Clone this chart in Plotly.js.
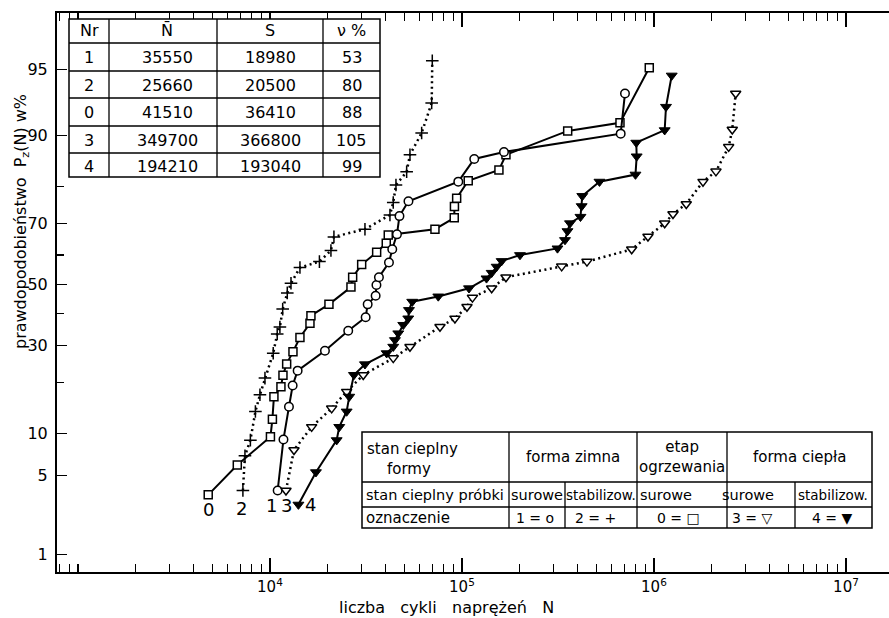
<!DOCTYPE html>
<html><head><meta charset="utf-8">
<script src="https://cdn.plot.ly/plotly-3.0.1.min.js"></script>
<style>html,body{margin:0;padding:0;background:#fff}</style>
</head><body><div id="chart" style="width:889px;height:618px"></div>
<script>
// ---------- DATA (N = cycles, P = probability in %) ----------
const N0 = [4770, 6760, 10060, 10300, 10490, 11410, 11690, 12220, 13180, 14330, 16160, 16350, 20290, 26420, 26960, 30040, 35950, 40340, 41320, 72330, 91170, 91380, 93830, 107800, 155800, 169500, 355300, 665200, 945100];
const P0 = [3.5, 6.0, 9.5, 12.3, 16.7, 18.9, 21.7, 24.7, 28.1, 32.4, 36.9, 39.4, 43.2, 49.1, 52.5, 56.8, 60.9, 63.9, 66.5, 68.3, 71.7, 74.9, 77.1, 81.4, 83.8, 86.8, 90.7, 91.8, 96.9];

const N1 = [10970, 11760, 12560, 13130, 13940, 19340, 25570, 31510, 32280, 35520, 35860, 36950, 41670, 43350, 45860, 47260, 52650, 95690, 115900, 165500, 670900, 706300];
const P1 = [3.8, 9.1, 14.6, 19.2, 22.9, 28.4, 34.5, 38.9, 43.2, 46.1, 49.8, 52.5, 57.5, 61.9, 66.7, 72.2, 76.3, 81.2, 86.0, 87.3, 90.3, 95.0];

const N2 = [7230, 7410, 7910, 8400, 8870, 9420, 10400, 10910, 11270, 11650, 12310, 12870, 14330, 18100, 20780, 21540, 31250, 42170, 43870, 45320, 51520, 53610, 61680, 69550, 70050];
const P2 = [3.8, 7.0, 9.0, 13.7, 17.1, 21.0, 27.7, 33.5, 35.7, 41.6, 47.1, 50.4, 55.8, 57.8, 61.5, 65.9, 68.3, 72.5, 76.0, 80.4, 83.4, 86.8, 90.4, 94.1, 97.3];

const N3 = [12120, 13340, 16490, 20960, 25090, 30610, 43870, 53610, 76830, 91930, 106200, 113400, 142800, 169500, 330600, 447700, 765500, 930500, 1137000, 1256000, 1473000, 1800000, 2103000, 2449000, 2557000, 2664000];
const P3 = [3.8, 7.7, 11.0, 14.3, 17.8, 21.8, 26.3, 29.6, 35.8, 38.5, 42.4, 45.5, 48.7, 52.5, 56.2, 57.8, 61.9, 66.0, 70.1, 72.8, 75.6, 81.2, 83.5, 88.2, 90.9, 95.0];

const N4 = [14070, 17360, 22260, 22960, 25090, 25880, 27380, 31250, 40530, 43870, 44770, 46590, 49460, 52520, 52970, 55090, 75280, 108800, 134200, 142800, 151600, 161000, 200500, 314400, 344000, 354400, 365200, 414200, 420200, 423300, 520200, 801000, 812700, 808800, 1137000, 1155000, 1237000];
const P4 = [2.9, 5.3, 9.0, 11.0, 13.7, 16.7, 21.8, 24.6, 27.7, 29.6, 31.6, 33.7, 36.4, 38.5, 41.3, 44.1, 45.9, 48.7, 52.1, 54.0, 56.1, 58.0, 60.0, 62.2, 64.9, 67.7, 70.1, 72.0, 75.0, 77.7, 81.2, 82.8, 86.5, 88.9, 90.8, 93.7, 96.4];

const seriesNames = ["0", "1", "2", "3", "4"];

// y tick labels (percent); the "95" label sits where the original drew it
const yTickPct = [1, 5, 10, 30, 50, 70, 90, 96.8];
const yTickText = ["1", "5", "10", "30", "50", "70", "90", "95"];
const yMinorPct = [20, 40, 60, 80];
const yRangePct = [0.664, 99.03];

const xTickVals = [1e4, 1e5, 1e6, 1e7];
const xTickText = ["10<sup>4</sup>", "10<sup>5</sup>", "10<sup>6</sup>", "10<sup>7</sup>"];
const xRangeLog = [2.891, 7.224];

// table 1
const t1Head = ["Nr", "N\u0304", "S", "\u03bd %"];
const t1Nr = ["1", "2", "0", "3", "4"];
const t1Mean = ["35550", "25660", "41510", "349700", "194210"];
const t1S = ["18980", "20500", "36410", "366800", "193040"];
const t1V = ["53", "80", "88", "105", "99"];

// table 2
const t2Row1 = ["forma zimna", "etap<br>ogrzewania", "forma ciepła"];
const t2Row2 = ["surowe", "stabilizow.", "surowe", "surowe", "stabilizow."];
const t2Row3 = ["1 = o", "2 = +", "0 = \u25a1", "3 = \u25bd", "4 = \u25bc"];

// ---------- helpers ----------
function probit(p) {
  const a=[-3.969683028665376e+01,2.209460984245205e+02,-2.759285104469687e+02,1.383577518672690e+02,-3.066479806614716e+01,2.506628277459239e+00];
  const b=[-5.447609879822406e+01,1.615858368580409e+02,-1.556989798598866e+02,6.680131188771972e+01,-1.328068155288572e+01];
  const c=[-7.784894002430293e-03,-3.223964580411365e-01,-2.400758277161838e+00,-2.549671180840070e+00,4.374664141464968e+00,2.938163982698783e+00];
  const d=[7.784695709041462e-03,3.224671290700398e-01,2.445134137142996e+00,3.754408661907416e+00];
  const pl=0.02425, ph=1-pl; let q, r;
  if (p < pl) { q=Math.sqrt(-2*Math.log(p)); return (((((c[0]*q+c[1])*q+c[2])*q+c[3])*q+c[4])*q+c[5])/((((d[0]*q+d[1])*q+d[2])*q+d[3])*q+1); }
  if (p > ph) { q=Math.sqrt(-2*Math.log(1-p)); return -(((((c[0]*q+c[1])*q+c[2])*q+c[3])*q+c[4])*q+c[5])/((((d[0]*q+d[1])*q+d[2])*q+d[3])*q+1); }
  q=p-0.5; r=q*q;
  return (((((a[0]*r+a[1])*r+a[2])*r+a[3])*r+a[4])*r+a[5])*q/(((((b[0]*r+b[1])*r+b[2])*r+b[3])*r+b[4])*r+1);
}
const pz = arr => arr.map(v => probit(v / 100));

const ML = 57, MT = 13, PW = 832, PH = 559;
const fx = px => (px - ML) / PW;
const fy = py => (MT + PH - py) / PH;
const FONT = "DejaVu Sans, Liberation Sans, sans-serif";

// ---------- traces ----------
const solid = {color: "#000", width: 2};
const dotted = {color: "#000", width: 2.5, dash: "2px,3.5px"};
const traces = [
  {x: N0, y: pz(P0), mode: "lines+markers", line: solid,
   marker: {symbol: "square", size: 8, color: "#fff", line: {color: "#000", width: 1.5}}},
  {x: N1, y: pz(P1), mode: "lines+markers", line: solid,
   marker: {symbol: "circle", size: 8.5, color: "#fff", line: {color: "#000", width: 1.5}}},
  {x: N2, y: pz(P2), mode: "lines+markers", line: dotted,
   marker: {symbol: "cross-thin-open", size: 9, color: "#000", line: {color: "#000", width: 1.5}}},
  {x: N3, y: pz(P3), mode: "lines+markers", line: dotted,
   marker: {symbol: "triangle-down", size: 9, color: "#fff", line: {color: "#000", width: 1.5}}},
  {x: N4, y: pz(P4), mode: "lines+markers", line: solid,
   marker: {symbol: "triangle-down", size: 9.5, color: "#000", line: {color: "#000", width: 1}}}
];

// minor x ticks
const xMinor = [];
for (let e = 2; e <= 7; e++) for (let k = 1; k <= 9; k++) {
  const v = k * Math.pow(10, e);
  if (k === 1 && e >= 4) continue;
  const lv = Math.log10(v);
  if (lv > xRangeLog[0] && lv < xRangeLog[1]) xMinor.push(v);
}

// ---------- shapes & annotations (tables) ----------
const shapes = [];
const ann = [];
function hline(x0, x1, y, w) { shapes.push({type: "line", xref: "paper", yref: "paper", x0: fx(x0), x1: fx(x1), y0: fy(y), y1: fy(y), line: {color: "#000", width: w || 1.3}}); }
function vline(x, y0, y1, w) { shapes.push({type: "line", xref: "paper", yref: "paper", x0: fx(x), x1: fx(x), y0: fy(y0), y1: fy(y1), line: {color: "#000", width: w || 1.3}}); }
function rect(x0, y0, x1, y1) { shapes.push({type: "rect", xref: "paper", yref: "paper", x0: fx(x0), x1: fx(x1), y0: fy(y1), y1: fy(y0), fillcolor: "#fff", line: {color: "#000", width: 1.5}}); }
function txt(x, y, t, size, anchor) {
  ann.push({xref: "paper", yref: "paper", x: fx(x), y: fy(y), text: t, showarrow: false,
    xanchor: anchor || "center", yanchor: "middle", font: {family: FONT, size: size || 15, color: "#000"}});
}

// table 1
const c1 = [69, 109, 217, 323, 380];
const r1 = [19, 43, 71, 98, 126, 153, 177];
rect(c1[0], r1[0], c1[4], r1[6]);
for (let i = 1; i < r1.length - 1; i++) hline(c1[0], c1[4], r1[i]);
for (let j = 1; j < c1.length - 1; j++) vline(c1[j], r1[0], r1[6]);
const cols1 = [t1Nr, t1Mean, t1S, t1V];
for (let j = 0; j < 4; j++) {
  txt((c1[j] + c1[j + 1]) / 2 + (j === 1 ? 4 : 0), (r1[0] + r1[1]) / 2, t1Head[j], 16);
  for (let i = 0; i < 5; i++) txt((c1[j] + c1[j + 1]) / 2 + (j === 1 ? 4 : 0), (r1[i + 1] + r1[i + 2]) / 2 + 1, cols1[j][i], 16);
}

// table 2
const c2 = [362, 509, 565, 637, 727, 795, 872];
const r2 = [432, 482, 507, 528];
rect(c2[0], r2[0], c2[6], r2[3]);
hline(c2[0], c2[6], r2[1]);
hline(c2[0], c2[6], r2[2]);
[c2[1], c2[3], c2[4]].forEach(x => vline(x, r2[0], r2[3]));
[c2[2], c2[5]].forEach(x => vline(x, r2[1], r2[3]));
txt(365, 449, "stan cieplny", 15, "left");
txt(385, 469, "formy", 15, "left");
txt((c2[1] + c2[3]) / 2, 457, t2Row1[0], 15);
txt((c2[3] + c2[4]) / 2, 457, t2Row1[1], 15);
txt((c2[4] + c2[6]) / 2, 457, t2Row1[2], 15);
txt(364, 494.5, "stan cieplny próbki", 14.5, "left");
const r2x = [537, 601, 666, 748, 833];
for (let j = 0; j < 5; j++) txt(r2x[j], 494.5, t2Row2[j], (t2Row2[j].length > 8 ? 13.5 : 14.5));
txt(364, 518, "oznaczenie", 15, "left");
const r3x = [535, 595, 678, 752, 832];
for (let j = 0; j < 5; j++) txt(r3x[j], 518, t2Row3[j], 14);

// series labels at the start of each curve
const starts = [[N0, P0, 0, -15], [N1, P1, -6, -15], [N2, P2, -1.5, -17.5], [N3, P3, 1, -15], [N4, P4, 12, 0]];
starts.forEach((s, i) => {
  ann.push({xref: "x", yref: "y", x: Math.log10(s[0][0]), y: probit(s[1][0] / 100), text: seriesNames[i],
    showarrow: false, xshift: s[2], yshift: s[3], font: {family: FONT, size: 18, color: "#000"}});
});

// axis titles
ann.push({xref: "paper", yref: "paper", x: fx(21), y: fy(222), textangle: -90, showarrow: false,
  text: "prawdopodobieństwo\u00a0\u00a0P<sub>z</sub>(N) w%", xanchor: "center", yanchor: "middle",
  font: {family: FONT, size: 16, color: "#000"}});
ann.push({xref: "paper", yref: "paper", x: fx(446), y: fy(607), showarrow: false,
  text: "liczba\u00a0\u00a0\u00a0cykli\u00a0\u00a0\u00a0naprężeń\u00a0\u00a0\u00a0N", xanchor: "center", yanchor: "middle",
  font: {family: FONT, size: 16, color: "#000"}});

const layout = {
  width: 889, height: 618,
  margin: {l: ML, r: 0, t: MT, b: 618 - MT - PH},
  paper_bgcolor: "#fff", plot_bgcolor: "#fff",
  showlegend: false,
  font: {family: FONT, size: 15, color: "#000"},
  xaxis: {
    type: "log", range: xRangeLog, showgrid: false, zeroline: false,
    showline: true, linecolor: "#000", linewidth: 2, mirror: "ticks",
    ticks: "inside", ticklen: 14, tickwidth: 1.3, tickcolor: "#000",
    tickvals: xTickVals, ticktext: xTickText, tickfont: {family: FONT, size: 15},
    minor: {tickvals: xMinor, ticks: "inside", ticklen: 8, tickwidth: 1.2, tickcolor: "#000", showgrid: false}
  },
  yaxis: {
    type: "linear", range: yRangePct.map(v => probit(v / 100)), showgrid: false, zeroline: false,
    showline: true, linecolor: "#000", linewidth: 2,
    ticks: "inside", ticklen: 10, tickwidth: 1.3, tickcolor: "#000",
    tickvals: pz(yTickPct), ticktext: yTickText, tickfont: {family: FONT, size: 16}, ticklabelstandoff: 4,
    minor: {tickvals: pz(yMinorPct), ticks: "inside", ticklen: 7, tickwidth: 1.2, tickcolor: "#000", showgrid: false}
  },
  shapes: shapes,
  annotations: ann
};

Plotly.newPlot("chart", traces, layout, {displayModeBar: false, staticPlot: true});
</script>
</body></html>
